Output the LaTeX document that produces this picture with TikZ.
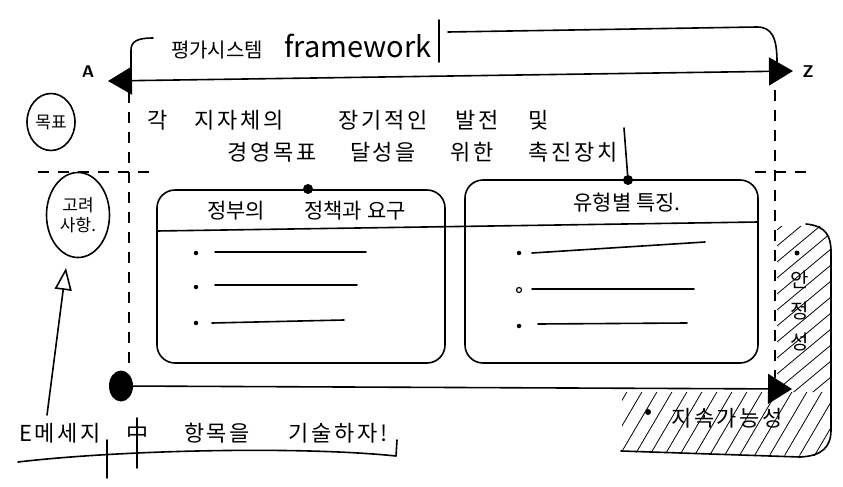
\documentclass[tikz,border=0pt]{standalone}
\usepackage{fontspec}
\newfontfamily\kr{Noto Sans CJK KR}
\usetikzlibrary{arrows.meta,shapes.geometric}
\begin{document}
\begin{tikzpicture}[x=1pt,y=-1pt,
  ink/.style={line width=1.6pt,line cap=round,line join=round},
  hair/.style={line width=0.8pt,line cap=round},
  dashline/.style={line width=1.5pt,dash pattern=on 11pt off 9pt},
  body/.style={font=\kr\fontsize{22}{26}\selectfont\addfontfeature{LetterSpace=12},inner sep=0pt},
  hdr/.style={font=\kr\fontsize{21}{24}\selectfont,inner sep=0pt},
  small/.style={font=\kr\fontsize{17}{20}\selectfont,inner sep=0pt,align=center},
  endlbl/.style={font=\sffamily\bfseries\fontsize{17}{20}\selectfont,inner sep=0pt},
  card/.style={draw,ink,rounded corners=18pt,inner sep=0pt},
  ring/.style={draw,ink,ellipse,inner sep=0pt},
  inkdot/.style={circle,fill,inner sep=0pt,minimum size=#1},
  opendot/.style={circle,draw,line width=1.2pt,inner sep=0pt,minimum size=#1},
  bigarrow/.style={ink,-{Triangle[length=24pt,width=30pt]}},
]
\fill[white] (0,0) rectangle (843,487);
\useasboundingbox (0,0) rectangle (843,487);

% ---- top A--Z bracket ----
\node[endlbl] (A) at (88,72) {A};
\node[endlbl] (Z) at (808,72) {Z};
\coordinate (la) at (108,81);
\coordinate (ra) at (793,71);
\draw[ink,{Triangle[length=24pt,width=28pt]}-{Triangle[length=24pt,width=28pt]}] (la) -- (ra);
\coordinate (bl0) at (131,70);
\coordinate (bl1) at (153,38);
\draw[ink] (bl0) -- (131,50) .. controls (131,41) and (138,38) .. (bl1);
\node[font=\kr\fontsize{20}{24}\selectfont,inner sep=0pt] (t1) at (217,50) {평가시스템};
\node[font=\kr\fontsize{29}{32}\selectfont,inner sep=0pt] (t2) at (358,46) {framework};
\draw[ink] (439,20) -- (439,62);
\coordinate (br0) at (448,32);
\coordinate (br1) at (777,62);
\draw[ink] (br0) -- (757,27) .. controls (772,27) and (777,38) .. (br1);

% ---- dashed guides ----
\draw[dashline] (129,92) -- (129,372);
\draw[dashline] (775,90) -- (775,378);
\draw[dashline] (38,172) -- (158,172);
\draw[dashline] (755,172) -- (807,172);

% ---- left side circles ----
\node[ring,small,minimum width=48pt,minimum height=57pt] (goal) at (51,122) {목표};
\node[ring,small,minimum width=63pt,minimum height=85pt] (consider) at (78,215) {고려\\사항.};
\coordinate (afoot) at (47,415);
\coordinate (atip) at (66,268);
\draw[ink,-{Triangle[open,length=22pt,width=17pt]}] (afoot) -- (atip);

% ---- goal text ----
\node[body] (w1) at (158,120) {각};
\node[body] (w2) at (239,120) {지자체의};
\node[body] (w3) at (383,120) {장기적인};
\node[body] (w4) at (477,120) {발전};
\node[body] (w5) at (539,120) {및};
\node[body] (w6) at (272,152) {경영목표};
\node[body] (w7) at (383,152) {달성을};
\node[body] (w8) at (472,152) {위한};
\node[body] (w9) at (573,152) {촉진장치};

% ---- boxes ----
\node[card,minimum width=288pt,minimum height=173pt] (b1) at (301,276.5) {};
\node[card,minimum width=293pt,minimum height=183pt] (b2) at (611.5,271.5) {};
\coordinate (s1) at (157,231);
\coordinate (s2) at (758,222);
\draw[ink] (s1) -- (s2);
\node[inkdot=10pt] (d1) at (308,189) {};
\node[inkdot=10pt] (d2) at (628,180) {};
\coordinate (vtop) at (624,128);
\draw[ink] (vtop) -- (d2);
\node[hdr] (h1a) at (236,211) {정부의};
\node[hdr] (h1b) at (355,211) {정책과 요구};
\node[hdr] (h2) at (627,203) {유형별 특징.};

% bullets box 1
\node[inkdot=4.5pt] (p1) at (196,253) {};
\node[inkdot=4.5pt] (p2) at (196,287) {};
\node[inkdot=4.5pt] (p3) at (196,323) {};
\draw[ink] (215,252) -- (366,252);
\draw[ink] (215,285) -- (357,285);
\draw[ink] (212,323) -- (344,320);
% bullets box 2
\node[inkdot=4.5pt] (q1) at (519,253) {};
\node[opendot=5pt] (q2) at (519,290) {};
\node[inkdot=4.5pt] (q3) at (519,326) {};
\draw[ink] (532,253) -- (705,242);
\draw[ink] (532,289) -- (694,289);
\draw[ink] (538,324) -- (687,323);

% ---- bottom arrow ----
\node[ellipse,fill,inner sep=0pt,minimum width=24pt,minimum height=31pt] (bd) at (121,386) {};
\coordinate (bt) at (792,389);
\draw[bigarrow] (bd) -- (bt);

% ---- hatched area ----
\begin{scope}
  \clip (777,226) -- (822,226) -- (831,240) -- (831,392) -- (777,392) -- cycle;
  \foreach \y in {230,246,...,440} \draw[hair] (777,\y) -- ++(60,-50);
\end{scope}
\begin{scope}
  \clip (622,392) -- (831,392) -- (831,440) -- (815,456) -- (622,452) -- cycle;
  \foreach \x in {566,581,...,840} \draw[hair] (\x,470) -- ++(150,-255);
\end{scope}
\draw[ink] (806,224) .. controls (826,226) and (831,236) .. (831,252) -- (831,430) .. controls (831,447) and (822,456) .. (800,457) -- (621,451);
\node[inkdot=5pt] (sb) at (797,253) {};
\node[font=\kr\fontsize{20}{31}\selectfont,inner sep=0pt,align=center] (stab) at (800,311) {안\\정\\성};
\node[inkdot=6pt] (sus) at (648,412) {};
\node[body] (sustxt) at (727,418) {지속가능성};

% ---- bottom note ----
\node[body] (m1) at (60,433) {E메세지};
\node[body] (m2) at (137,433) {中};
\node[body] (m3) at (217,433) {항목을};
\node[body] (m4) at (338,433) {기술하자!};
\draw[ink] (18,462) .. controls (120,450) and (300,446) .. (396,456) -- (397,440);
\draw[ink] (107,440) -- (107,478);
\draw[ink] (137,418) -- (137,468);
\end{tikzpicture}
\end{document}
